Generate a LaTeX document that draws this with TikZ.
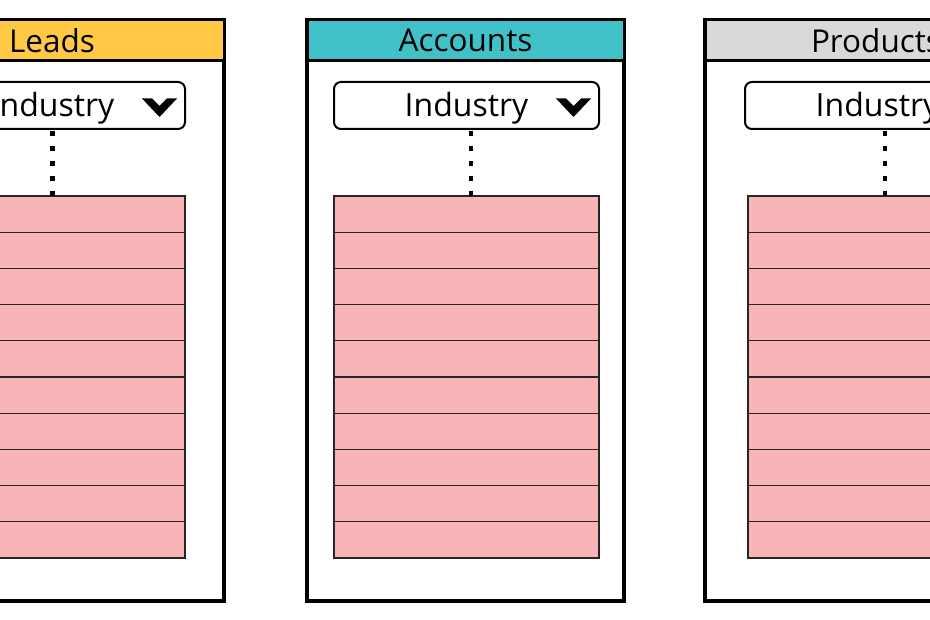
\documentclass[tikz,border=0pt]{standalone}
\usepackage{fontspec}
\setmainfont{Open Sans}
\usetikzlibrary{positioning}

\definecolor{leadsyellow}{HTML}{FFC845}
\definecolor{accteal}{HTML}{40C1C7}
\definecolor{prodgray}{HTML}{D9D9D9}
\definecolor{rowpink}{HTML}{F9B4B7}

\tikzset{
  panel/.style={draw, fill=white, line width=4pt, minimum height=581pt, anchor=north west, inner sep=0pt, outer sep=0pt},
  header/.style={draw, line width=3pt, minimum height=41pt, anchor=north west, inner sep=0pt, outer sep=0pt, font=\fontsize{31.5}{36}\selectfont},
  dropdown/.style={draw, line width=2pt, rounded corners=7pt, minimum width=265pt, minimum height=47pt, anchor=north west, inner sep=0pt, outer sep=0pt, text height=23pt, text depth=0pt, font=\fontsize{32}{38}\selectfont},
  row/.style={draw=black!85, line width=1.2pt, fill=rowpink, minimum width=265pt, minimum height=36.2pt, anchor=north west, inner sep=0pt, outer sep=0pt},
  link/.style={line width=4.5pt, dash pattern=on 4.5pt off 10.5pt},
  chevron/.style={fill=black}
}

\begin{document}
\begin{tikzpicture}[x=1pt, y=-1pt]
        \useasboundingbox (0,0) rectangle (930,620);
        \clip (0,0) rectangle (930,620);
        % Define nodes
        % Leads
        \node[panel, minimum width=344pt] (leads) at (-120,20) {};
        \node[header, fill=leadsyellow, minimum width=344pt] (leadshead) at (leads.north west) {Leads};
        \node[dropdown] (leadsdd) at (-80,82) {Industry};
        \foreach \i in {1,...,10}
            \node[row] (leads\i) at (-80,{196+(\i-1)*36.2}) {};
        % Accounts
        \node[panel, minimum width=317pt] (acc) at (307,20) {};
        \node[header, fill=accteal, minimum width=317pt] (acchead) at (acc.north west) {Accounts};
        \node[dropdown] (accdd) at (334,82) {Industry};
        \foreach \i in {1,...,10}
            \node[row] (acc\i) at (334,{196+(\i-1)*36.2}) {};
        % Products
        \node[panel, minimum width=342pt] (prod) at (705,20) {};
        \node[header, fill=prodgray, minimum width=342pt] (prodhead) at (prod.north west) {Products};
        \node[dropdown] (proddd) at (745,82) {Industry};
        \foreach \i in {1,...,10}
            \node[row] (prod\i) at (748,{196+(\i-1)*36.2}) {};
        % Chevrons
        \foreach \dd in {leadsdd, accdd, proddd}
            \fill[chevron] (\dd.east) ++(-43,-7) -- ++(10,0) -- ++(7.5,7.5) -- ++(7.5,-7.5) -- ++(10,0) -- ++(-17.5,18.5) -- cycle;
        % Connect nodes
        \draw[link] (leads1.north) -- (leads1.north |- leadsdd.south);
        \draw[link] ([xshift=4.5pt]acc1.north) -- ([xshift=4.5pt]acc1.north |- accdd.south);
        \draw[link] ([xshift=4.5pt]prod1.north) -- ([xshift=4.5pt]prod1.north |- proddd.south);
    \end{tikzpicture}
\end{document}
